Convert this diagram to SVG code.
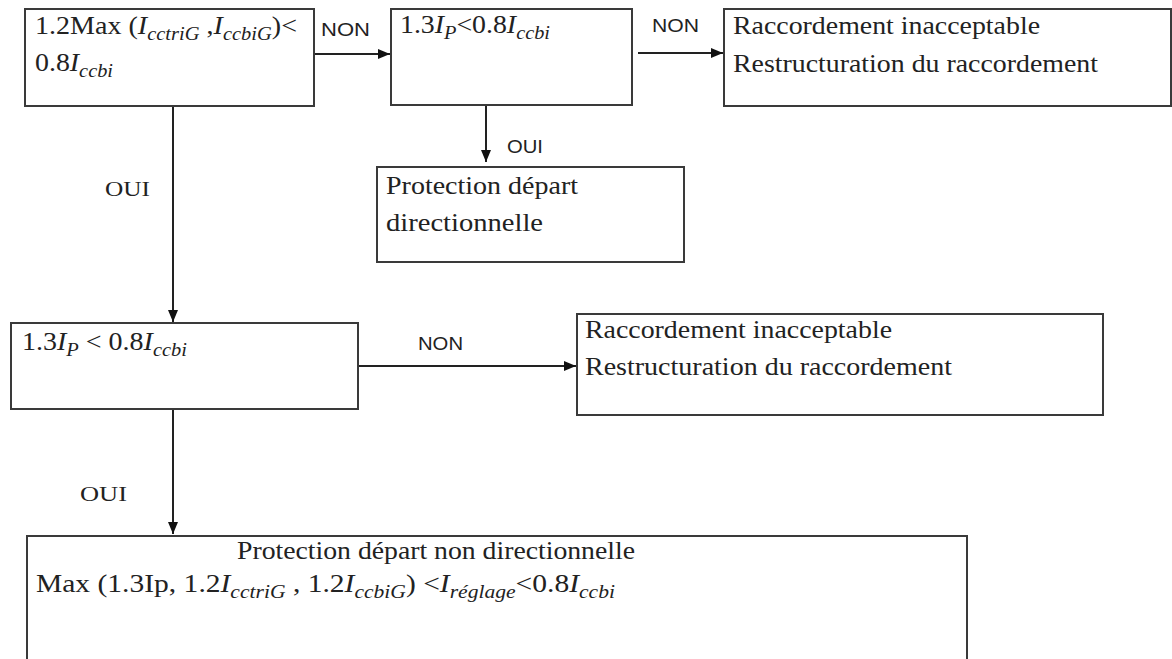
<svg xmlns="http://www.w3.org/2000/svg" width="1172" height="659" viewBox="0 0 1172 659">
<style>
.box{fill:#fff;stroke:#3a3a3a;stroke-width:2}
.t{font-family:"Liberation Serif",serif;font-size:26px;fill:#222}
.i{font-style:italic}
.s{font-style:italic;font-size:19px}
.lab{font-family:"Liberation Sans",sans-serif;font-size:18px;fill:#222}
.labs{font-family:"Liberation Serif",serif;font-size:22px;fill:#222}
.c{stroke:#222;stroke-width:2;fill:none;marker-end:url(#ah)}
</style>
<defs>
<marker id="ah" markerUnits="userSpaceOnUse" markerWidth="12" markerHeight="10" refX="12" refY="5" orient="auto">
<path d="M0,0 L12,5 L0,10 Z" fill="#111"/>
</marker>
</defs>
<rect width="1172" height="659" fill="#fff"/>
<g id="connectors">
<line class="c" x1="315" y1="54" x2="390" y2="54"/>
<line class="c" x1="638" y1="53" x2="723" y2="53"/>
<line class="c" x1="486" y1="106" x2="486" y2="162"/>
<line class="c" x1="173" y1="107" x2="173" y2="322"/>
<line class="c" x1="358" y1="366" x2="576" y2="366"/>
<line class="c" x1="173" y1="410" x2="173" y2="534"/>
<text class="lab" x="321" y="36" textLength="49" lengthAdjust="spacingAndGlyphs">NON</text>
<text class="lab" x="652" y="32" textLength="47" lengthAdjust="spacingAndGlyphs">NON</text>
<text class="lab" x="507" y="153" textLength="36" lengthAdjust="spacingAndGlyphs">OUI</text>
<text class="labs" x="105" y="196" textLength="45" lengthAdjust="spacingAndGlyphs">OUI</text>
<text class="lab" x="418" y="350" textLength="45" lengthAdjust="spacingAndGlyphs">NON</text>
<text class="labs" x="80" y="501" textLength="47" lengthAdjust="spacingAndGlyphs">OUI</text>
</g>
<g id="n1">
<rect class="box" x="25" y="9" width="289" height="97"/>
<text class="t" x="35" y="34" textLength="262" lengthAdjust="spacingAndGlyphs">1.2Max (<tspan class="i">I</tspan><tspan class="s" dy="6">cctriG</tspan><tspan dy="-6"> ,</tspan><tspan class="i">I</tspan><tspan class="s" dy="6">ccbiG</tspan><tspan dy="-6">)&lt;</tspan></text>
<text class="t" x="35" y="71" textLength="78" lengthAdjust="spacingAndGlyphs">0.8<tspan class="i">I</tspan><tspan class="s" dy="6">ccbi</tspan></text>
</g>
<g id="n2">
<rect class="box" x="391" y="9" width="241" height="96"/>
<text class="t" x="400" y="33" textLength="150" lengthAdjust="spacingAndGlyphs">1.3<tspan class="i">I</tspan><tspan class="s" dy="6">P</tspan><tspan dy="-6">&lt;0.8</tspan><tspan class="i">I</tspan><tspan class="s" dy="6">ccbi</tspan></text>
</g>
<g id="n3">
<rect class="box" x="724" y="9" width="447" height="97"/>
<text class="t" x="733" y="34" textLength="307" lengthAdjust="spacingAndGlyphs">Raccordement inacceptable</text>
<text class="t" x="733" y="72" textLength="365" lengthAdjust="spacingAndGlyphs">Restructuration du raccordement</text>
</g>
<g id="n4">
<rect class="box" x="377" y="167" width="307" height="95"/>
<text class="t" x="386" y="194" textLength="192" lengthAdjust="spacingAndGlyphs">Protection départ</text>
<text class="t" x="386" y="231" textLength="157" lengthAdjust="spacingAndGlyphs">directionnelle</text>
</g>
<g id="n5">
<rect class="box" x="11" y="323" width="347" height="86"/>
<text class="t" x="22" y="350" textLength="165" lengthAdjust="spacingAndGlyphs">1.3<tspan class="i">I</tspan><tspan class="s" dy="6">P</tspan><tspan dy="-6"> &lt; 0.8</tspan><tspan class="i">I</tspan><tspan class="s" dy="6">ccbi</tspan></text>
</g>
<g id="n6">
<rect class="box" x="577" y="314" width="526" height="101"/>
<text class="t" x="585" y="338" textLength="307" lengthAdjust="spacingAndGlyphs">Raccordement inacceptable</text>
<text class="t" x="585" y="375" textLength="367" lengthAdjust="spacingAndGlyphs">Restructuration du raccordement</text>
</g>
<g id="n7">
<rect class="box" x="27" y="536" width="940" height="140"/>
<text class="t" x="237" y="559" textLength="398" lengthAdjust="spacingAndGlyphs">Protection départ non directionnelle</text>
<text class="t" x="36" y="592" textLength="579" lengthAdjust="spacingAndGlyphs">Max (1.3Ip, 1.2<tspan class="i">I</tspan><tspan class="s" dy="6">cctriG</tspan><tspan dy="-6"> , 1.2</tspan><tspan class="i">I</tspan><tspan class="s" dy="6">ccbiG</tspan><tspan dy="-6">) &lt;</tspan><tspan class="i">I</tspan><tspan class="s" dy="6">réglage</tspan><tspan dy="-6">&lt;0.8</tspan><tspan class="i">I</tspan><tspan class="s" dy="6">ccbi</tspan></text>
</g>
</svg>
